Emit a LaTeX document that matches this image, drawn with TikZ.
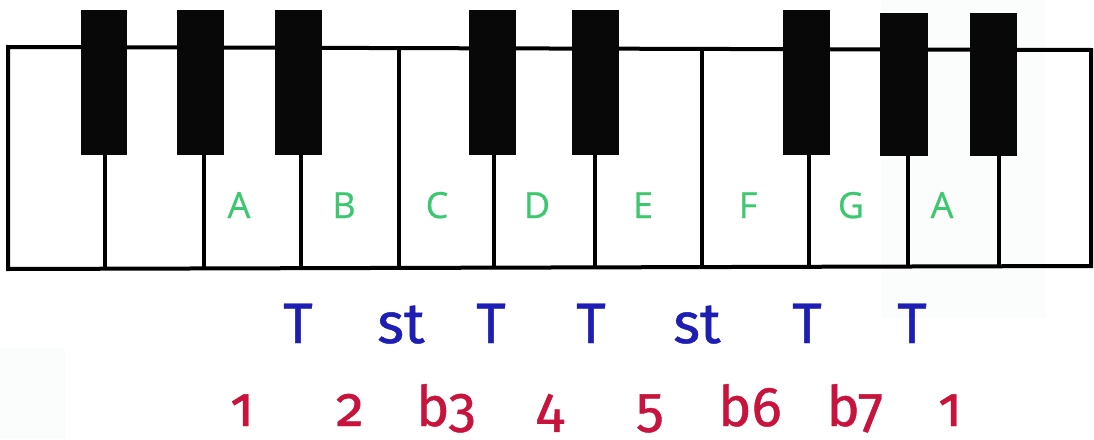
\documentclass[tikz,border=0pt]{standalone}
\usepackage{fontspec}
\setmainfont[UprightFeatures={FakeBold=0.6}]{Open Sans}
\newfontfamily\stepfont[UprightFeatures={FakeBold=0.8}]{Fira Sans}
\newfontfamily\numfont[Numbers=OldStyle,UprightFeatures={FakeBold=0.8}]{Fira Sans}
\definecolor{notegreen}{HTML}{3CC86E}
\definecolor{stepblue}{HTML}{1E1EB4}
\definecolor{degred}{HTML}{C8143C}
\definecolor{faint}{HTML}{FBFCFC}
\begin{document}
\begin{tikzpicture}[x=1pt,y=-1pt,
  outline/.style={draw=black,line width=4pt,line join=miter},
  divider/.style={draw=black,line width=3.5pt},
  blackkey/.style={fill=black!97},
  notelabel/.style={anchor=base,inner sep=0pt,text=notegreen,font=\fontsize{36}{40}\selectfont},
  steplabel/.style={anchor=base,inner sep=0pt,text=stepblue,font=\stepfont\fontsize{57}{60}\selectfont},
  deglabel/.style={anchor=base,inner sep=0pt,text=degred,font=\numfont\fontsize{56}{60}\selectfont}]
\useasboundingbox (0,0) rectangle (1094,439);
\fill[white] (0,0) rectangle (1094,439);
\fill[faint] (881,0) rectangle (1046,318);
\fill[faint] (0,348) rectangle (65,439);
% keyboard outline
\draw[outline] (8,47) -- (1091,50) -- (1091,266) -- (8,269) -- cycle;
% dividers under black keys
\foreach \x in {105,204,301,494,595,809,908,999}
  \draw[divider] (\x,150) -- (\x,268);
% full dividers
\draw[divider] (399,48) -- (399,268);
\draw[divider] (702,49) -- (702,267);
% black keys
\foreach \l/\r in {81/127,177/224,275/322,469/516,572/619,783/830}
  \fill[blackkey] (\l,10) rectangle (\r,155);
\foreach \l/\r in {880/928,970/1017}
  \fill[blackkey] (\l,13) rectangle (\r,156);
% note names
\node[notelabel] (nA1) at (239,218) {A};
\node[notelabel] (nB) at (344,218) {B};
\node[notelabel] (nC) at (437,218) {C};
\node[notelabel] (nD) at (537,218) {D};
\node[notelabel] (nE) at (643,218) {E};
\node[notelabel] (nF) at (748,218) {F};
\node[notelabel] (nG) at (851,218) {G};
\node[notelabel] (nA2) at (942,218) {A};
% steps
\node[steplabel] (s1) at (298,343) {T};
\node[steplabel] (s2) at (401,343) {st};
\node[steplabel] (s3) at (491,343) {T};
\node[steplabel] (s4) at (591,343) {T};
\node[steplabel] (s5) at (697,343) {st};
\node[steplabel] (s6) at (807,343) {T};
\node[steplabel] (s7) at (912,343) {T};
% degrees
\node[deglabel] (d1) at (242,426) {1};
\node[deglabel] (d2) at (350,426) {2};
\node[deglabel] (d3) at (446,426) {b3};
\node[deglabel] (d4) at (550,426) {4};
\node[deglabel] (d5) at (650,426) {5};
\node[deglabel] (d6) at (750,426) {b6};
\node[deglabel] (d7) at (855,426) {b7};
\node[deglabel] (d8) at (950,426) {1};
\end{tikzpicture}
\end{document}
